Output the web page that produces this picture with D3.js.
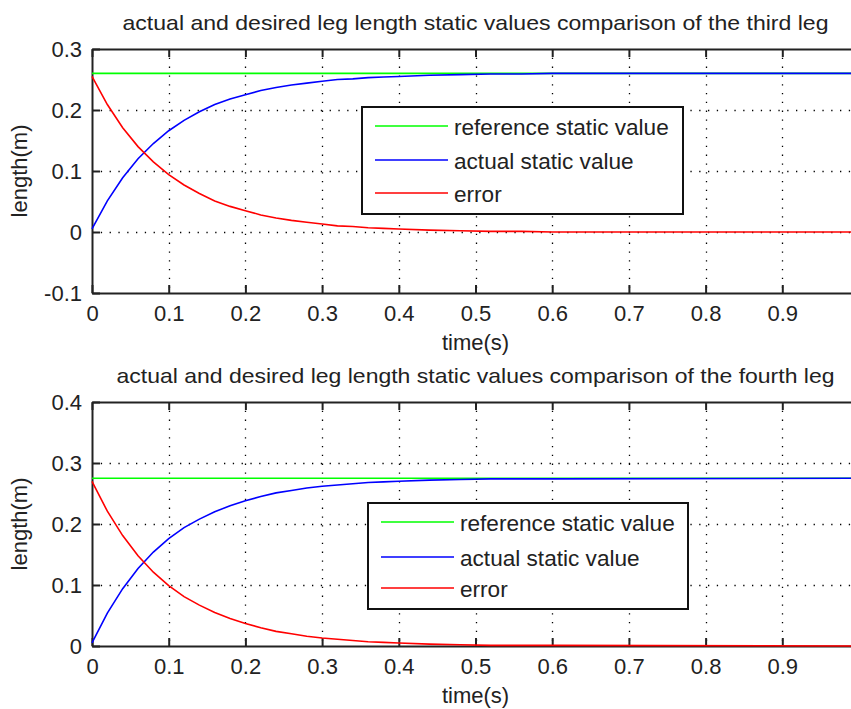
<!DOCTYPE html>
<html>
<head>
<meta charset="utf-8">
<script src="https://cdn.jsdelivr.net/npm/d3@7"></script>
<style>
  body { margin: 0; background: #fff; }
  svg { display: block; font-family: "Liberation Sans", Arial, sans-serif; }
</style>
</head>
<body>
<div id="chart"></div>
<script>
// time samples (s)
const time = [0, 0.02, 0.04, 0.06, 0.08, 0.10, 0.12, 0.14, 0.16, 0.18, 0.20, 0.22, 0.24, 0.26,
  0.28, 0.30, 0.32, 0.34, 0.36, 0.38, 0.40, 0.44, 0.48, 0.52, 0.56, 0.60, 1.0];

// third leg
const refThird = [0.26, 0.26, 0.26, 0.26, 0.26, 0.26, 0.26, 0.26, 0.26, 0.26, 0.26, 0.26, 0.26, 0.26,
  0.26, 0.26, 0.26, 0.26, 0.26, 0.26, 0.26, 0.26, 0.26, 0.26, 0.26, 0.26, 0.26];
const actualThird = [0.005, 0.051, 0.089, 0.120, 0.145, 0.166, 0.183, 0.197, 0.209, 0.218, 0.225, 0.232,
  0.237, 0.241, 0.244, 0.247, 0.250, 0.251, 0.253, 0.254, 0.255, 0.257, 0.258, 0.259, 0.259, 0.260, 0.260];
const errorThird = [0.255, 0.209, 0.171, 0.140, 0.115, 0.094, 0.077, 0.063, 0.051, 0.042, 0.035, 0.028,
  0.023, 0.019, 0.016, 0.013, 0.010, 0.009, 0.007, 0.006, 0.005, 0.003, 0.002, 0.001, 0.001, 0.000, 0.000];

// fourth leg
const refFourth = [0.275, 0.275, 0.275, 0.275, 0.275, 0.275, 0.275, 0.275, 0.275, 0.275, 0.275, 0.275, 0.275,
  0.275, 0.275, 0.275, 0.275, 0.275, 0.275, 0.275, 0.275, 0.275, 0.275, 0.275, 0.275, 0.275, 0.275];
const actualFourth = [0.005, 0.054, 0.094, 0.127, 0.154, 0.176, 0.194, 0.208, 0.220, 0.230, 0.238, 0.245,
  0.251, 0.255, 0.259, 0.262, 0.264, 0.266, 0.268, 0.269, 0.270, 0.272, 0.273, 0.274, 0.274, 0.274, 0.275];
const errorFourth = [0.270, 0.221, 0.181, 0.148, 0.121, 0.099, 0.081, 0.067, 0.055, 0.045, 0.037, 0.030,
  0.024, 0.020, 0.016, 0.013, 0.011, 0.009, 0.007, 0.006, 0.005, 0.003, 0.002, 0.001, 0.001, 0.001, 0.000];

const xTicks = [0, 0.1, 0.2, 0.3, 0.4, 0.5, 0.6, 0.7, 0.8, 0.9];
const yTicksThird = [-0.1, 0, 0.1, 0.2, 0.3];
const yTicksFourth = [0, 0.1, 0.2, 0.3, 0.4];
const seriesNames = ["reference static value", "actual static value", "error"];
const seriesColors = ["#00ff00", "#0000ff", "#ff0000"];

const W = 851, H = 709;
const svg = d3.select("#chart").append("svg")
    .attr("width", W).attr("height", H);

// matlab style labels: "0", "0.1", "-0.1" (plain hyphen)
const fmt = d => d === 0 ? "0" : d.toFixed(1);

function panel(cfg) {
    const left = 92, width = 767;
    const top = cfg.top, height = cfg.height;
    const g = svg.append("g").attr("transform", `translate(${left},${top})`);

    const x = d3.scaleLinear().domain([0, 1]).range([0, width]);
    const y = d3.scaleLinear().domain(cfg.yDomain).range([height, 0]);

    // dotted grid
    g.append("g").selectAll("line.vg")
        .data(xTicks.filter(d => d > 0))
        .join("line")
        .attr("x1", d => Math.round(x(d)) + 0.5).attr("x2", d => Math.round(x(d)) + 0.5)
        .attr("y1", 0).attr("y2", height)
        .attr("stroke", "#000").attr("stroke-width", 1.3)
        .attr("stroke-dasharray", "1.3,7.5");
    g.append("g").selectAll("line.hg")
        .data(cfg.yTicks.filter(d => d > cfg.yDomain[0] && d < cfg.yDomain[1]))
        .join("line")
        .attr("y1", d => Math.round(y(d)) + 0.5).attr("y2", d => Math.round(y(d)) + 0.5)
        .attr("x1", 0).attr("x2", width)
        .attr("stroke", "#000").attr("stroke-width", 1.3)
        .attr("stroke-dasharray", "1.3,7.5");

    // axes (ticks inward)
    const bottomAxis = g.append("g")
        .attr("transform", `translate(0,${height})`)
        .call(d3.axisBottom(x).tickValues(xTicks).tickSizeInner(-8).tickSizeOuter(0)
            .tickFormat(fmt).tickPadding(12));
    const topAxis = g.append("g")
        .call(d3.axisTop(x).tickValues(xTicks).tickSizeInner(-8).tickSizeOuter(0).tickFormat(""));
    const leftAxis = g.append("g")
        .call(d3.axisLeft(y).tickValues(cfg.yTicks).tickSizeInner(-8).tickSizeOuter(0)
            .tickFormat(fmt).tickPadding(10));
    [bottomAxis, topAxis, leftAxis].forEach(a => {
        a.select(".domain").attr("stroke", "#222").attr("stroke-width", 2);
        a.selectAll(".tick line").attr("stroke", "#222").attr("stroke-width", 2);
        a.selectAll(".tick text").attr("fill", "#222").style("font-size", "22px");
    });
    bottomAxis.selectAll(".tick text").attr("dy", "0.71em");

    // series lines
    const line = d3.line().x((d, i) => x(time[i])).y(d => y(d));
    cfg.series.forEach((s, i) => {
        g.append("path")
            .datum(s)
            .attr("fill", "none")
            .attr("stroke", seriesColors[i])
            .attr("stroke-width", 1.6)
            .attr("d", line);
    });

    // title and labels
    svg.append("text")
        .attr("x", left + width / 2).attr("y", cfg.titleY)
        .attr("text-anchor", "middle")
        .attr("fill", "#222")
        .attr("textLength", cfg.titleLen).attr("lengthAdjust", "spacingAndGlyphs")
        .style("font-size", "21px")
        .text(cfg.title);
    svg.append("text")
        .attr("x", left + width / 2).attr("y", top + height + 57)
        .attr("text-anchor", "middle")
        .attr("fill", "#222")
        .style("font-size", "22px")
        .text("time(s)");
    svg.append("text")
        .attr("transform", `translate(27,${top + height / 2}) rotate(-90)`)
        .attr("text-anchor", "middle")
        .attr("fill", "#222")
        .style("font-size", "22px")
        .text("length(m)");

    // legend
    const lg = svg.append("g").attr("transform", `translate(${cfg.legend[0]},${cfg.legend[1]})`);
    lg.append("rect")
        .attr("width", cfg.legend[2]).attr("height", cfg.legend[3])
        .attr("fill", "#fff").attr("stroke", "#111").attr("stroke-width", 2);
    seriesNames.forEach((name, i) => {
        const ly = cfg.legendRows[i];
        lg.append("line")
            .attr("x1", 13).attr("x2", 86).attr("y1", ly).attr("y2", ly)
            .attr("stroke", seriesColors[i]).attr("stroke-width", 1.6);
        lg.append("text")
            .attr("x", 92).attr("y", ly).attr("dy", "0.38em")
            .attr("fill", "#222")
            .style("font-size", "22.6px")
            .text(name);
    });
}

panel({
    top: 49, height: 244,
    yDomain: [-0.1, 0.3], yTicks: yTicksThird,
    series: [refThird, actualThird, errorThird],
    title: "actual and desired leg length static values comparison of the third leg",
    titleY: 30, titleLen: 706,
    legend: [362, 107, 321, 107], legendRows: [19, 53, 86]
});

panel({
    top: 402, height: 244,
    yDomain: [0, 0.4], yTicks: yTicksFourth,
    series: [refFourth, actualFourth, errorFourth],
    title: "actual and desired leg length static values comparison of the fourth leg",
    titleY: 383, titleLen: 718,
    legend: [368, 503, 320, 106], legendRows: [19, 54, 85]
});
</script>
</body>
</html>
